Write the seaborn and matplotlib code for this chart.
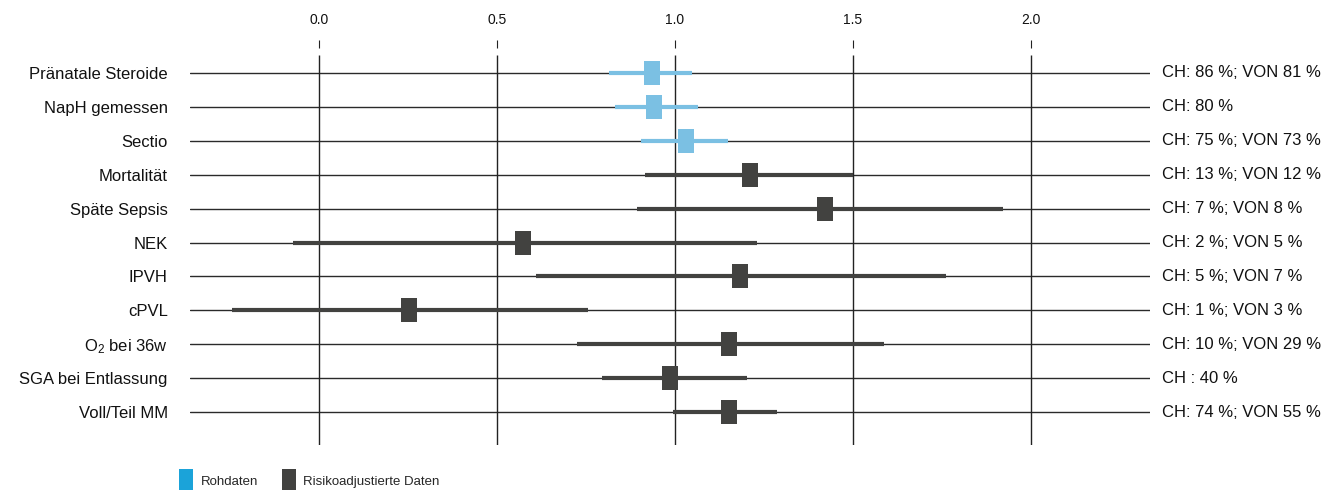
import seaborn as sns
import matplotlib.pyplot as plt
import pandas as pd
from matplotlib.lines import Line2D

labels = ["Pränatale Steroide", "NapH gemessen", "Sectio", "Mortalität", "Späte Sepsis",
          "NEK", "IPVH", "cPVL", "O$_2$ bei 36w", "SGA bei Entlassung", "Voll/Teil MM"]
right_labels = ["CH: 86 %; VON 81 %", "CH: 80 %", "CH: 75 %; VON 73 %", "CH: 13 %; VON 12 %",
                "CH: 7 %; VON 8 %", "CH: 2 %; VON 5 %", "CH: 5 %; VON 7 %", "CH: 1 %; VON 3 %",
                "CH: 10 %; VON 29 %", "CH : 40 %", "CH: 74 %; VON 55 %"]
estimate = [0.935, 0.941, 1.031, 1.211, 1.422, 0.573, 1.183, 0.252, 1.152, 0.986, 1.152]
ci_low = [0.815, 0.831, 0.904, 0.916, 0.894, -0.073, 0.608, -0.244, 0.725, 0.794, 0.995]
ci_high = [1.049, 1.064, 1.149, 1.499, 1.922, 1.230, 1.761, 0.755, 1.587, 1.201, 1.287]
group = ["Rohdaten"] * 3 + ["Risikoadjustierte Daten"] * 8

colors = {"Rohdaten": "#7bc0e3", "Risikoadjustierte Daten": "#424240"}
legend_colors = {"Rohdaten": "#1ba3d9", "Risikoadjustierte Daten": "#424240"}

df = pd.DataFrame({"label": labels, "row": range(len(labels)), "est": estimate,
                   "lo": ci_low, "hi": ci_high, "group": group})

sns.set_theme(style="white")
plt.rcParams["font.family"] = ["Liberation Sans", "DejaVu Sans"]
plt.rcParams["mathtext.default"] = "regular"

fig = plt.figure(figsize=(13.31, 4.9), dpi=100)
ax = fig.add_axes([190 / 1331, 45 / 490, 960 / 1331, 405 / 490])

# row baselines
for r in df["row"]:
    ax.axhline(r, color="#2a2a2a", lw=1, zorder=1)

# vertical gridlines
ax.vlines([0, 0.5, 1.0, 1.5, 2.0], -0.53, 10.97, color="#222222", lw=1, zorder=1)

# confidence intervals
for _, d in df.iterrows():
    ax.hlines(d["row"], d["lo"], d["hi"], color=colors[d["group"]], lw=3, zorder=2)

rect = [(-2, -3), (2, -3), (2, 3), (-2, 3), (-2, -3)]
sns.scatterplot(data=df, x="est", y="row", hue="group", palette=colors, marker=rect,
                s=300, linewidth=0, legend=False, ax=ax, zorder=3)

ax.set_xlim(-0.363, 2.335)
ax.set_ylim(10.97, -0.973)
ax.set_xlabel("")
ax.set_ylabel("")
for s in ax.spines.values():
    s.set_visible(False)

ax.xaxis.tick_top()
ax.set_xticks([0, 0.5, 1.0, 1.5, 2.0])
ax.set_xticklabels(["0.0", "0.5", "1.0", "1.5", "2.0"])
ax.tick_params(axis="x", direction="in", length=6, width=0.8, color="#222222",
               pad=9, labelsize=10, labelcolor="#111111", top=True, bottom=False)

ax.set_yticks(list(df["row"]))
ax.set_yticklabels(labels)
ax.tick_params(axis="y", length=0, pad=16, labelsize=12, labelcolor="#111111")

for r, t in zip(df["row"], right_labels):
    ax.text(1.0125, r, t, transform=ax.get_yaxis_transform(), ha="left", va="center",
            fontsize=12, color="#111111")

handles = [Line2D([], [], ls="none", marker=rect, markersize=16, markeredgewidth=0,
                  color=legend_colors[g]) for g in ["Rohdaten", "Risikoadjustierte Daten"]]
fig.legend(handles, ["Rohdaten", "Risikoadjustierte Daten"], loc="lower left",
           bbox_to_anchor=(168 / 1331, -0.02), ncol=2, frameon=False, fontsize=9.5,
           handlelength=1.0, handletextpad=0.6, columnspacing=1.8)

fig.savefig("out.png", dpi=100)
